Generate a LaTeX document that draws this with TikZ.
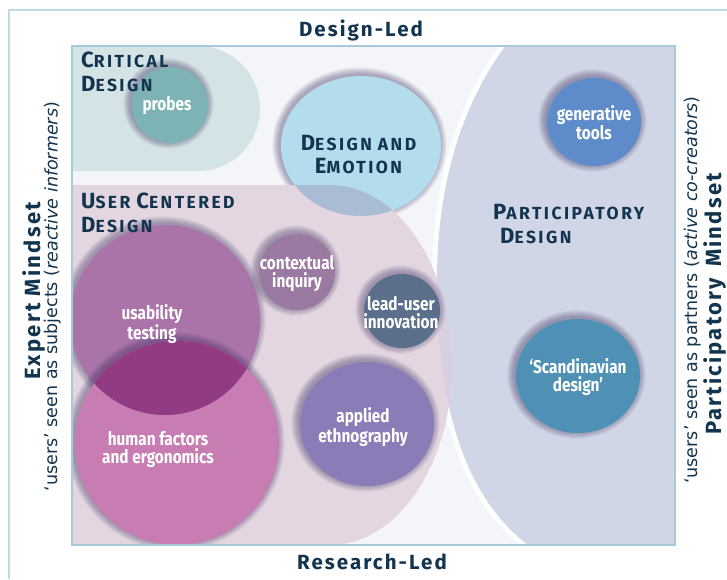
\documentclass[tikz,border=0pt]{standalone}
\usepackage{fontspec}
\setmainfont{Fira Sans}
\newfontfamily\sidefont{DejaVu Sans}
\newfontfamily\headfont[LetterSpace=10]{Fira Sans}
\newfontfamily\regfont[LetterSpace=14]{Fira Sans}
\newfontfamily\labfont[FakeStretch=0.83]{Fira Sans}
\definecolor{navy}{HTML}{12344E}
\definecolor{framec}{HTML}{A7CAD8}
\definecolor{outerc}{HTML}{BCDBE5}
\definecolor{bgc}{HTML}{F3F5F8}
\definecolor{critc}{HTML}{D4E3E5}
\definecolor{probec}{HTML}{7EB3B5}
\definecolor{emoc}{HTML}{B3DCEC}
\definecolor{ucdc}{HTML}{E3D6E1}
\definecolor{ucdemoc}{HTML}{A9BCD3}
\definecolor{pdc}{HTML}{D0D6E6}
\definecolor{ucdpdc}{HTML}{D7D0E1}
\definecolor{usac}{HTML}{AA74A9}
\definecolor{humc}{HTML}{C77DB1}
\definecolor{lensc}{HTML}{923A84}
\definecolor{ctxc}{HTML}{9B7AA1}
\definecolor{leadc}{HTML}{5B6F8B}
\definecolor{applc}{HTML}{8A7CB6}
\definecolor{genc}{HTML}{5E8BC9}
\definecolor{scanc}{HTML}{4F90B5}
\definecolor{glowc}{HTML}{3B2D5E}
\newcommand\SCx[2]{{\fontsize{22}{22}\selectfont #1}{\fontsize{17.5}{17.5}\selectfont #2}}
\newcommand\glowell[3]{\foreach \k in {0.8,1.6,...,8}{\fill[glowc,opacity=0.05] ([shift={(-1.5,-1.5)}]#1) ellipse[x radius=#2+\k, y radius=#3+\k];}}
\begin{document}
\begin{tikzpicture}[x=1pt,y=-1pt,
  lab/.style={font=\labfont\bfseries\fontsize{18.5}{18}\selectfont, text=white, align=center, inner sep=0pt},
  reg/.style={font=\regfont\bfseries, text=navy, anchor=base west, inner sep=0pt},
  regc/.style={font=\regfont\bfseries, text=navy, anchor=base, inner sep=0pt},
  head/.style={font=\headfont\bfseries\fontsize{20.5}{24}\selectfont, text=navy, anchor=base, inner sep=0pt},
  sidebold/.style={font=\headfont\bfseries\fontsize{22}{24}\selectfont, text=navy, rotate=90, anchor=base, inner sep=0pt},
  sidesmall/.style={font=\sidefont\fontsize{17.5}{20}\selectfont, text=navy, rotate=90, anchor=base, inner sep=0pt}]
\useasboundingbox (0,0) rectangle (727,579);
\fill[white] (0,0) rectangle (727,579);
\draw[outerc, line width=1.5pt] (9,579) -- (9,10) -- (727,10);
\fill[bgc] (72,46) rectangle (675,545);
\begin{scope}
  \clip (72,46) rectangle (675,545);
  % participatory region
  \draw[white, line width=10pt, opacity=0.9] (510,40) .. controls (455,110) and (437,200) .. (437,280) .. controls (437,400) and (462,500) .. (535,550);
  \fill[pdc] (680,40) -- (510,40) .. controls (455,110) and (437,200) .. (437,280) .. controls (437,400) and (462,500) .. (535,550) -- (680,550) -- cycle;
  % critical design region
  \fill[critc] (60,46) -- (198,46) arc[start angle=-90, end angle=90, x radius=62, y radius=62.5] -- (60,171) -- cycle;
  % design and emotion
  \glowell{361,146}{80}{70}
  \fill[emoc] (361,146) ellipse[x radius=80, y radius=70];
  % user centered design region
  \fill[ucdc] (60,185) -- (330,185) arc[start angle=-90, end angle=90, x radius=122, y radius=180] -- (60,545) -- cycle;
  \begin{scope}
    \clip (361,146) ellipse[x radius=80, y radius=70];
    \fill[ucdemoc] (60,185) -- (330,185) arc[start angle=-90, end angle=90, x radius=122, y radius=180] -- (60,545) -- cycle;
  \end{scope}
  \begin{scope}
    \clip (680,40) -- (510,40) .. controls (455,110) and (437,200) .. (437,280) .. controls (437,400) and (462,500) .. (535,550) -- (680,550) -- cycle;
    \fill[ucdpdc] (60,185) -- (330,185) arc[start angle=-90, end angle=90, x radius=122, y radius=180] -- (60,545) -- cycle;
  \end{scope}
  % usability / human factors
  \glowell{165,320}{95}{95}
  \fill[usac] (165,320) circle[radius=95];
  \glowell{177,443}{102}{102}
  \fill[humc] (177,443) circle[radius=102];
  \begin{scope}
    \clip (165,320) circle[radius=95];
    \fill[lensc] (177,443) circle[radius=102];
  \end{scope}
  % small circles
  \glowell{170,105}{38}{38}
  \fill[probec] (170,105) circle[radius=38];
  \glowell{297,272}{38}{38}
  \fill[ctxc] (297,272) circle[radius=38];
  \glowell{402,311}{38}{37}
  \fill[leadc] (402,311) ellipse[x radius=38, y radius=37];
  \glowell{367,424}{67}{62}
  \fill[applc] (367,424) ellipse[x radius=67, y radius=62];
  \glowell{594,122}{47}{44}
  \fill[genc] (594,122) ellipse[x radius=47, y radius=44];
  \glowell{578,376}{62}{57}
  \fill[scanc] (578,376) ellipse[x radius=62, y radius=57];
\end{scope}
\draw[framec, line width=2.5pt] (72,46) rectangle (675,545);
% circle labels
\node[lab] (probes) at (167,106) {probes};
\node[lab] (gen) at (594,123) {generative\\tools};
\node[lab] (ctx) at (297,274) {contextual\\inquiry};
\node[lab] (lead) at (401,313) {lead-user\\innovation};
\node[lab] (appl) at (363,427) {applied\\ethnography};
\node[lab] (usa) at (152,324) {usability\\testing};
\node[lab] (hum) at (158,450) {human factors\\and ergonomics};
\node[lab] (scan) at (578,377) {‘Scandinavian\\design’};
% region labels
\node[reg] (crit1) at (81,67.5) {\SCx{C}{RITICAL}};
\node[reg] (crit2) at (81,91.5) {\SCx{D}{ESIGN}};
\node[reg] (ucd1) at (81,208) {\SCx{U}{SER}\hspace{6pt}\SCx{C}{ENTERED}};
\node[reg] (ucd2) at (81,232) {\SCx{D}{ESIGN}};
\node[regc] (emo1) at (358.5,150) {\SCx{D}{ESIGN}\hspace{6pt}{\fontsize{17.5}{17.5}\selectfont AND}};
\node[regc] (emo2) at (358.5,173) {\SCx{E}{MOTION}};
\node[reg] (pd1) at (493,219) {\SCx{P}{ARTICIPATORY}};
\node[reg] (pd2) at (500,243) {\SCx{D}{ESIGN}};
% axis labels
\node[head] (designled) at (361,36) {Design-Led};
\node[head] (researchled) at (372,569) {Research-Led};
\node[sidebold] (expert) at (40,291) {Expert Mindset};
\node[sidesmall] (subj) at (57.5,296.5) {‘users’ seen as subjects (\textit{reactive informers})};
\node[sidesmall] (partn) at (697,290) {‘users’ seen as partners (\textit{active co-creators})};
\node[sidebold] (partm) at (721,304) {Participatory\enspace Mindset};
\end{tikzpicture}
\end{document}
